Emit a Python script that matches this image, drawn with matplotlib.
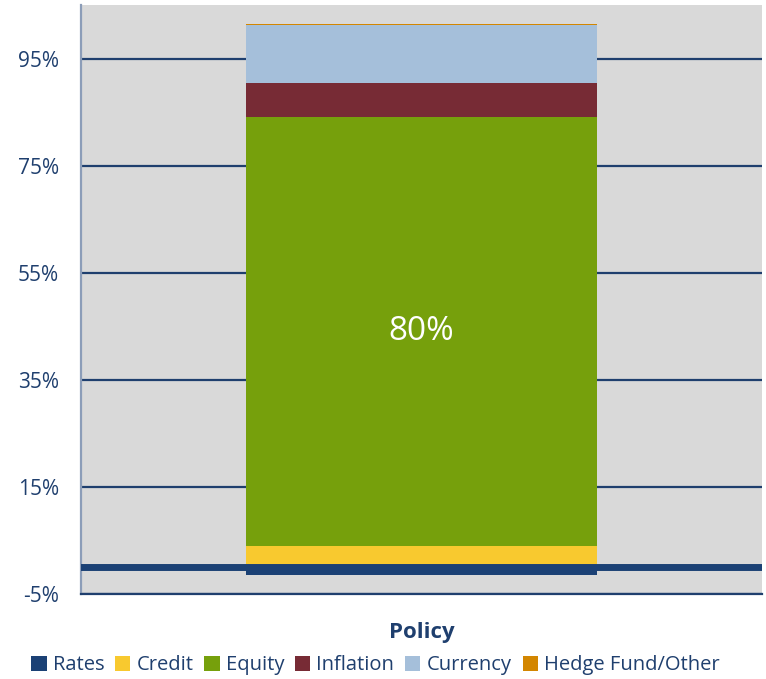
import numpy as np
import matplotlib.pyplot as plt
from matplotlib.patches import Patch

plt.rcParams['font.family'] = ['Open Sans', 'DejaVu Sans']

# exposure by risk factor (%)
categories = ["Policy"]
factors = ["Rates", "Credit", "Equity", "Inflation", "Currency", "Hedge Fund/Other"]
rates = [-1.5]
credit = [4.0]
equity = [80.0]
inflation = [6.5]
currency = [10.8]
hedge_other = [0.2]
yticks = [-5, 15, 35, 55, 75, 95]

colors = ["#1B4175", "#F8C92F", "#76A00C", "#772B35", "#A5BFDA", "#D38600"]
navy = "#1F3F6E"

fig = plt.figure(figsize=(7.66, 6.79), dpi=100)
ax = fig.add_axes([0.1057, 0.1252, 0.8891, 0.8674])
ax.set_facecolor("#D9D9D9")

x = np.arange(len(categories))
width = 0.514

# negative part below zero, positive parts stacked upwards
ax.bar(x, rates, width, color=colors[0], zorder=2)
bottom = np.zeros(len(categories))
for vals, c in zip([credit, equity, inflation, currency, hedge_other], colors[1:]):
    ax.bar(x, vals, width, bottom=bottom, color=c, zorder=2)
    bottom += np.array(vals)

# value label on the equity block
for i, v in enumerate(equity):
    ax.text(x[i], credit[i] + v / 2, f"{v:.0f}%", ha="center", va="center",
            color="white", fontsize=24, zorder=4)

ax.axhline(0, color=colors[0], linewidth=5, zorder=3)

ax.set_xlim(-0.5, 0.5)
ax.set_ylim(-5, 105)
ax.set_yticks(yticks)
ax.set_yticklabels([f"{t}%" for t in yticks])
ax.yaxis.grid(True, color=navy, linewidth=1.6, zorder=1)
ax.set_axisbelow(True)
ax.set_xticks(x)
ax.set_xticklabels(categories, fontsize=16, fontweight="bold", color=navy)
ax.tick_params(axis="y", length=0, labelsize=15, labelcolor=navy, pad=16)
ax.tick_params(axis="x", length=0, pad=20)

for s in ["top", "right"]:
    ax.spines[s].set_visible(False)
ax.spines["left"].set_color("#8C9DB8")
ax.spines["left"].set_linewidth(1.6)
ax.spines["bottom"].set_color(navy)
ax.spines["bottom"].set_linewidth(1.6)

handles = [Patch(facecolor=c, label=f) for c, f in zip(colors, factors)]
leg = fig.legend(handles=handles, loc="center", bbox_to_anchor=(0.49, 0.02),
                 ncol=6, frameon=False, fontsize=14.5, handlelength=0.75,
                 handleheight=0.75, handletextpad=0.3, columnspacing=0.55,
                 borderpad=0)
for t in leg.get_texts():
    t.set_color(navy)

fig.savefig("out.png", dpi=100)
